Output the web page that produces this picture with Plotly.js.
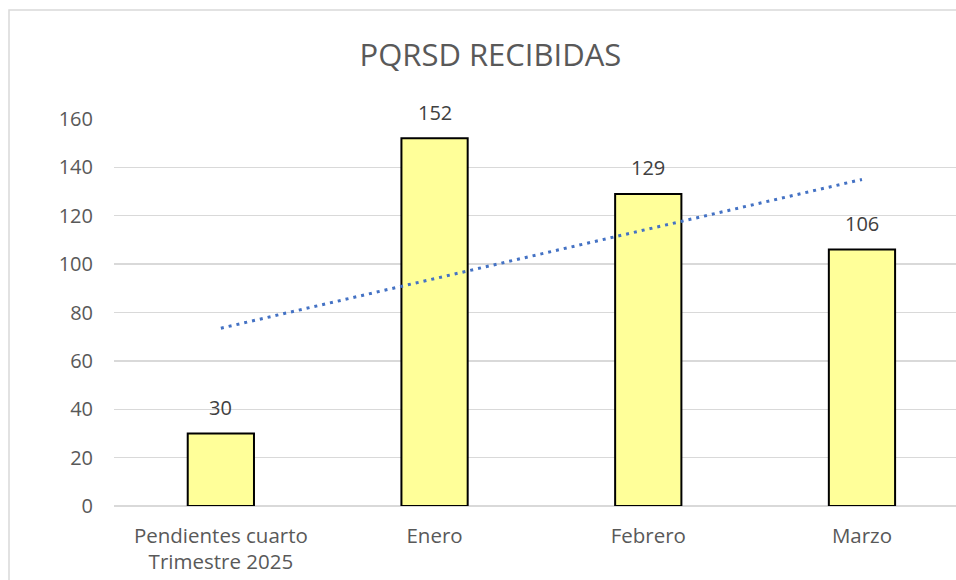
<!DOCTYPE html>
<html>
<head>
<meta charset="utf-8">
<script src="https://cdn.plot.ly/plotly-3.0.1.min.js"></script>
<style>html,body{margin:0;padding:0;background:#fff;}#chart{width:956px;height:580px;}</style>
</head>
<body>
<div id="chart"></div>
<script>
const categories = ["Pendientes cuarto<br>Trimestre 2025", "Enero", "Febrero", "Marzo"];
const values = [30, 152, 129, 106];
const yTicks = [0, 20, 40, 60, 80, 100, 120, 140, 160];
const chartTitle = "PQRSD RECIBIDAS";

// Linear trendline (least squares), as drawn by the source chart
const n = values.length;
const xs = values.map((_, i) => i + 1);
const mx = xs.reduce((a, b) => a + b, 0) / n;
const my = values.reduce((a, b) => a + b, 0) / n;
let sxy = 0, sxx = 0;
for (let i = 0; i < n; i++) { sxy += (xs[i] - mx) * (values[i] - my); sxx += (xs[i] - mx) ** 2; }
const slope = sxy / sxx, intercept = my - slope * mx;
const trend = xs.map(x => intercept + slope * x);

const font = "Open Sans, Noto Sans, sans-serif";

const traces = [
  {
    type: "bar", x: categories, y: values,
    marker: {color: "#FFFF99", line: {color: "#000000", width: 2}},
    width: 0.31, hoverinfo: "skip"
  },
  {
    type: "scatter", mode: "lines", x: categories, y: trend,
    line: {color: "#4472C4", width: 3, dash: "3px,5px"},
    hoverinfo: "skip"
  }
];

const annotations = categories.map((c, i) => ({
  x: c, y: values[i], xref: "x", yref: "y", text: String(values[i]),
  showarrow: false, xanchor: "center", yanchor: "middle", yshift: 26,
  font: {family: font, size: 20, color: "#404040"}
}));

const layout = {
  width: 956, height: 580,
  margin: {l: 114, r: 0, t: 119, b: 74},
  paper_bgcolor: "#ffffff", plot_bgcolor: "#ffffff",
  showlegend: false,
  title: {text: chartTitle, font: {family: font, size: 31, color: "#595959"},
          xref: "container", yref: "container", x: 0.513, y: 0.905, xanchor: "center", yanchor: "middle"},
  xaxis: {range: [-0.5, 3.44], showgrid: false, zeroline: false, showline: false, ticks: "",
          tickfont: {family: font, size: 20.5, color: "#595959"}, ticklabelstandoff: 15, fixedrange: true},
  yaxis: {range: [0, 160], tickvals: yTicks, ticktext: yTicks.map(String),
          showgrid: true, gridcolor: "#d9d9d9", gridwidth: 1.3, zeroline: true, zerolinecolor: "#d9d9d9", zerolinewidth: 1.5,
          showline: false, ticks: "", tickfont: {family: font, size: 20, color: "#595959"}, ticklabelstandoff: 20, fixedrange: true},
  annotations: annotations,
  shapes: [
    {type: "rect", xref: "paper", yref: "paper", x0: -0.1247, x1: 1.05, y0: -0.4, y1: 1.2817,
     line: {color: "#d9d9d9", width: 1.5}, fillcolor: "rgba(0,0,0,0)", layer: "below"}
  ],
  bargap: 0.69
};

Plotly.newPlot("chart", traces, layout, {displayModeBar: false, staticPlot: true});
</script>
</body>
</html>
